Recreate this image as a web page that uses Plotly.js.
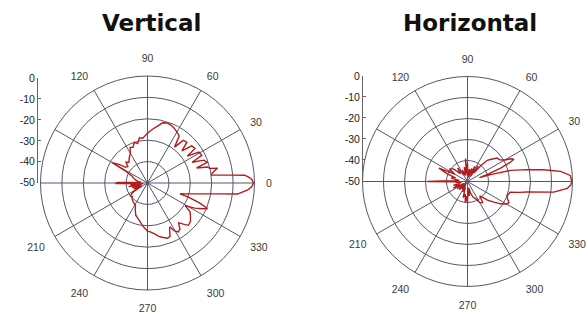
<!DOCTYPE html>
<html>
<head>
<meta charset="utf-8">
<script src="https://cdn.plot.ly/plotly-3.0.1.min.js"></script>
<style>html,body{margin:0;padding:0;background:#fff;}#chart{width:588px;height:314px;}</style>
</head>
<body>
<div id="chart"></div>
<script>
// Angular ticks (degrees) and their labels (150 and 180 are hidden behind the dB scale)
const angleTicks = [0, 30, 60, 90, 120, 150, 180, 210, 240, 270, 300, 330];
const angleLabels = ['0', '30', '60', '90', '120', '', '', '210', '240', '270', '300', '330'];
// the right-hand chart's "0" falls outside the picture
const angleLabels2 = ['', '30', '60', '90', '120', '', '', '210', '240', '270', '300', '330'];
// Radial (dB) scale
const radialTicks = [0, -10, -20, -30, -40, -50];
const radialLabels = ['0', '-10', '-20', '-30', '-40', '-50'];
const ringTicks = [-40, -30, -20, -10];

// Vertical pattern: angle (deg) and level (dB)
const vertTheta = [0, 2, 3.5, 4.6, 5.4, 6.2, 7, 8.5, 10.5, 12, 13, 15, 17, 19, 22, 25, 27, 31, 34, 36, 40, 43, 46, 50, 53, 56, 60, 64, 68, 72, 76, 80, 84, 88, 92, 96, 100, 104, 108, 112, 116, 120, 124, 128, 132, 136, 140, 144, 147, 150, 152, 156, 160, 165, 170, 175, 179, 181, 183, 186, 188, 191, 194, 197, 200, 204, 208, 212, 217, 222, 227, 232, 238, 242, 246, 250, 254, 258, 262, 266, 270, 274, 278, 282, 286, 290, 293, 295.5, 297, 299, 302, 305, 308, 311, 314, 318, 322, 326, 329, 332, 335, 337, 339, 341, 341.7, 344, 346, 348, 350, 351.5, 353, 356, 358, 360];
const vertDb = [-0.5, -1.2, -2.8, -4.5, -10.7, -16, -19.8, -19.5, -18, -16.5, -20, -21, -26, -20.5, -21.5, -27, -21.5, -22, -27.5, -22.5, -23, -28, -23.5, -24, -29, -23.5, -22.5, -21.5, -20.8, -20.5, -21, -23, -24.5, -26, -27.5, -29, -28.5, -31, -30, -32, -31.5, -34, -35, -36, -37, -36, -38, -37.5, -34, -31, -39, -42, -43, -44, -45.5, -47, -36, -35, -45, -42, -48, -41, -47, -42.5, -46, -43, -47, -42, -40, -40.5, -39.5, -39, -38.5, -38, -36, -34, -33, -32, -30.5, -29, -27.5, -27, -26, -24.5, -23.5, -22.5, -23, -26, -27, -24.5, -23, -23.5, -26.5, -24.5, -22.5, -23, -24.5, -26, -29.5, -25, -21.5, -19.5, -24, -30, -34, -31.5, -29, -25.5, -20.6, -15.5, -7.6, -3, -1.2, -0.5];

// Horizontal pattern: angle (deg) and level (dB)
const horzTheta = [0, 3.4, 6.2, 8.8, 11.2, 14.5, 16.5, 18, 20, 22, 24, 25.6, 27.5, 30, 34, 38.5, 43, 47, 50, 53, 56, 60, 64, 68, 72, 76, 80, 84, 88, 90, 92, 95, 98, 103, 108, 114, 120, 126, 132, 138, 145, 150, 155, 159, 163, 168, 172, 176, 179, 180, 181, 185, 190, 195, 200, 205, 210, 215, 220, 225, 230, 235, 240, 245, 250, 255, 260, 264, 267, 270, 273, 277, 281, 285, 290, 295, 300, 306, 310, 314, 317, 322, 326, 330, 333, 336, 340, 343, 346, 348, 350, 353, 356, 358, 360];
const horzDb = [-0.3, -1, -5.4, -13.3, -21, -28.8, -38, -44, -39, -33, -28, -25.5, -26.5, -29.5, -31.5, -32, -34.5, -36.2, -40, -45, -41, -47, -42, -46, -43.5, -48, -44, -47, -45, -41.5, -47, -39, -46, -43, -47, -44, -46.5, -42, -45, -41, -39.5, -43, -35, -39.5, -44, -42, -46, -44, -38, -31, -44, -45, -47, -43, -46, -42.5, -48, -44, -47, -44.5, -49, -45.5, -48, -44.5, -47, -42, -44, -40, -43, -40, -46, -43, -47, -44, -42, -41, -38.5, -37.5, -41, -39.5, -37, -34, -31, -28.5, -27.8, -29, -30, -29.5, -29, -25, -21, -8.6, -2.4, -0.8, -0.3];

const gridColor = '#55556f';
const lineColor = '#b41c1c';

function polarLayout(dx, dy, labels) {
  return {
    domain: {x: dx, y: dy},
    bgcolor: '#ffffff',
    radialaxis: {
      range: [radialTicks[5], radialTicks[0]],
      tickmode: 'array', tickvals: ringTicks,
      showticklabels: false, ticks: '', showline: false,
      gridcolor: gridColor, gridwidth: 1
    },
    angularaxis: {
      tickmode: 'array', tickvals: angleTicks, ticktext: labels,
      direction: 'counterclockwise', rotation: 0,
      showline: true, linecolor: gridColor, linewidth: 1,
      gridcolor: gridColor, gridwidth: 1,
      ticks: 'outside', ticklen: 9, tickcolor: 'rgba(0,0,0,0)',
      tickfont: {family: 'Liberation Sans, Arial, sans-serif', size: 10.5, color: '#3a3a3a'}
    }
  };
}

function dbAxis(dom, anchor) {
  return {
    domain: dom, anchor: anchor, side: 'left',
    range: [radialTicks[5], radialTicks[0]],
    tickmode: 'array', tickvals: radialTicks, ticktext: radialLabels,
    ticks: 'inside', ticklen: 3, tickcolor: '#666', tickwidth: 1,
    showline: true, linecolor: '#666', linewidth: 1,
    showgrid: false, zeroline: false, fixedrange: true,
    tickfont: {family: 'Liberation Sans, Arial, sans-serif', size: 10.5, color: '#222'}
  };
}

const data = [
  {type: 'scatterpolar', subplot: 'polar', r: vertDb, theta: vertTheta, mode: 'lines',
   line: {color: lineColor, width: 1.4}, hoverinfo: 'skip'},
  {type: 'scatterpolar', subplot: 'polar2', r: horzDb, theta: horzTheta, mode: 'lines',
   line: {color: lineColor, width: 1.4}, hoverinfo: 'skip'},
  {type: 'scatter', xaxis: 'x', yaxis: 'y', x: [0, 0], y: [radialTicks[0], radialTicks[5]],
   mode: 'markers', marker: {opacity: 0}, hoverinfo: 'skip'},
  {type: 'scatter', xaxis: 'x2', yaxis: 'y2', x: [0, 0], y: [radialTicks[0], radialTicks[5]],
   mode: 'markers', marker: {opacity: 0}, hoverinfo: 'skip'}
];

const layout = {
  width: 588, height: 314,
  margin: {l: 0, r: 0, t: 0, b: 0},
  paper_bgcolor: '#ffffff', plot_bgcolor: 'rgba(0,0,0,0)',
  showlegend: false,
  polar: polarLayout([0.0689, 0.4328], [0.0764, 0.758], angleLabels),
  polar2: polarLayout([0.6165, 0.9736], [0.0876, 0.7564], angleLabels2),
  xaxis: {domain: [0.0646, 0.07], visible: false, fixedrange: true},
  yaxis: dbAxis([0.418, 0.7516], 'x'),
  xaxis2: {domain: [0.6174, 0.62], visible: false, fixedrange: true},
  yaxis2: dbAxis([0.4236, 0.758], 'x2'),
  annotations: [
    {text: 'Vertical', x: 0.2585, y: 0.927, xref: 'paper', yref: 'paper', showarrow: false,
     xanchor: 'center', yanchor: 'middle',
     font: {family: 'DejaVu Sans, sans-serif', size: 23, color: '#111', weight: 'bold'}},
    {text: 'Horizontal', x: 0.799, y: 0.927, xref: 'paper', yref: 'paper', showarrow: false,
     xanchor: 'center', yanchor: 'middle',
     font: {family: 'DejaVu Sans, sans-serif', size: 23, color: '#111', weight: 'bold'}}
  ]
};

Plotly.newPlot('chart', data, layout, {displayModeBar: false, staticPlot: true});
</script>
</body>
</html>
